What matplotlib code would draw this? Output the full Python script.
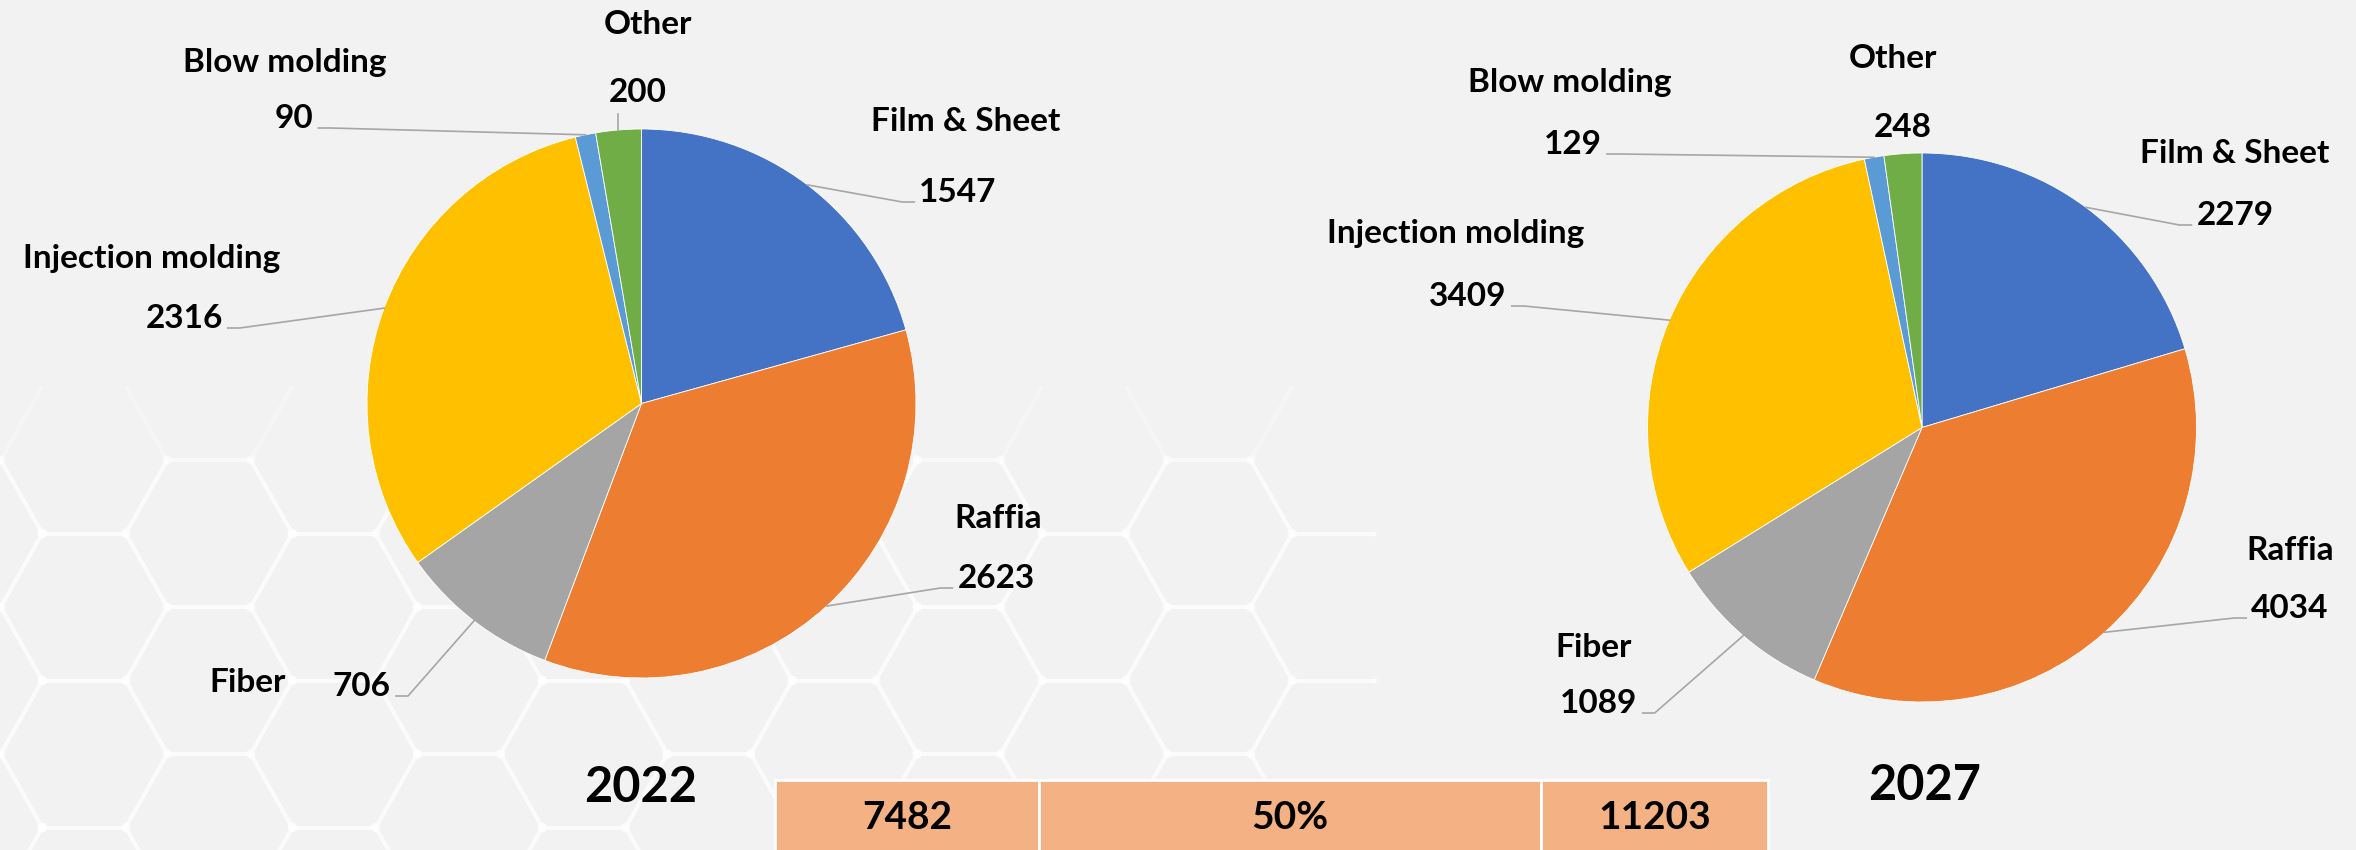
import numpy as np
import matplotlib.pyplot as plt
from matplotlib.patches import Rectangle
from matplotlib.collections import LineCollection

categories = ["Film & Sheet", "Raffia", "Fiber", "Injection molding", "Blow molding", "Other"]
values_2022 = [1547, 2623, 706, 2316, 90, 200]
values_2027 = [2279, 4034, 1089, 3409, 129, 248]
years = ["2022", "2027"]
table_cells = ["7482", "50%", "11203"]
colors = ["#4472C4", "#ED7D31", "#A5A5A5", "#FFC000", "#5B9BD5", "#70AD47"]

W, H = 2356, 850
BG = "#F2F2F2"
plt.rcParams['font.family'] = ['Lato', 'DejaVu Sans']

fig = plt.figure(figsize=(W / 100, H / 100), dpi=100, facecolor=BG)
ax = fig.add_axes([0, 0, 1, 1])
ax.set_facecolor(BG)

# layout, in pixel coordinates (y grows downward)
pies = [
    dict(values=values_2022, center=(641.5, 403.5), radius=274.5, year_pos=(641, 802),
         name_pos=[(966, 131), (998, 528), (248, 692), (152, 268), (285, 72), (648, 34)],
         value_pos=[(958, 202), (996, 588), (362, 696), (184, 328), (294, 128), (638, 102)],
         leader=[True, True, True, True, True, True]),
    dict(values=values_2027, center=(1922, 427.5), radius=274.5, year_pos=(1925, 800),
         name_pos=[(2235, 163), (2290, 560), (1594, 657), (1456, 243), (1570, 92), (1893, 68)],
         value_pos=[(2235, 225), (2290, 618), (1599, 713), (1468, 306), (1573, 154), (1903, 137)],
         leader=[True, True, True, True, True, False]),
]

# faint hexagon pattern in the background
s, h = 83.3, 73.5
segs, seg_cols, nodes = [], [], set()
for i in range(-1, 19):
    for j in range(-4, 4):
        cx = 84 + 125 * i
        cy = 607 + 147 * j - (73.5 if i % 2 else 0)
        v = [(cx - s / 2, cy - h), (cx + s / 2, cy - h), (cx + s, cy), (cx + s / 2, cy + h)]
        for a, b in [(v[0], v[1]), (v[1], v[2]), (v[2], v[3])]:
            mx, my = (a[0] + b[0]) / 2, (a[1] + b[1]) / 2
            alpha = 0.75 * np.clip((my - 380) / 110, 0, 1) * np.clip((1400 - mx) / 80, 0, 1)
            if alpha > 0.02:
                segs.append([a, b])
                seg_cols.append((1, 1, 1, alpha))
                nodes.add((round(a[0], 1), round(a[1], 1)))
                nodes.add((round(b[0], 1), round(b[1], 1)))
ax.add_collection(LineCollection(segs, colors=seg_cols, linewidths=3, zorder=0.5))
nx = np.array([n[0] for n in nodes])
ny = np.array([n[1] for n in nodes])
na = 0.7 * np.clip((ny - 380) / 110, 0, 1) * np.clip((1400 - nx) / 80, 0, 1)
ax.scatter(nx, ny, s=45, c=[(1, 1, 1, a) for a in na], linewidths=0, zorder=0.6)

value_texts = []
for p, year in zip(pies, years):
    ax.pie(p["values"], colors=colors, startangle=-90, counterclock=True,
           center=p["center"], radius=p["radius"], frame=False,
           wedgeprops=dict(linewidth=0.6, edgecolor="white"))
    for name, val, npos, vpos in zip(categories, p["values"], p["name_pos"], p["value_pos"]):
        ax.text(npos[0], npos[1], name, ha="center", va="baseline",
                fontsize=24, fontweight="bold", zorder=4)
        t = ax.text(vpos[0], vpos[1], str(val), ha="center", va="baseline",
                    fontsize=24, fontweight="bold", zorder=4)
        value_texts.append(t)
    ax.text(p["year_pos"][0], p["year_pos"][1], year, ha="center", va="baseline",
            fontsize=35, fontweight="bold", zorder=4)

ax.set_xlim(0, W)
ax.set_ylim(H, 0)
ax.set_aspect("auto")
ax.axis("off")

# summary table at the bottom
cell_edges = [775, 1039, 1541, 1768]
for k, txt in enumerate(table_cells):
    x0, x1 = cell_edges[k], cell_edges[k + 1]
    ax.add_patch(Rectangle((x0, 780), x1 - x0, 75, facecolor="#F4B183",
                           edgecolor="white", linewidth=2, zorder=3))
    ax.text((x0 + x1) / 2, 829, txt, ha="center", va="baseline",
            fontsize=28, fontweight="bold", zorder=4)

# leader lines from the value labels to the slices
fig.canvas.draw()
renderer = fig.canvas.get_renderer()
inv = ax.transData.inverted()
k = 0
for p in pies:
    vals = np.array(p["values"], dtype=float)
    cum = np.cumsum(vals) - vals / 2
    ang = cum / vals.sum() * 2 * np.pi
    cx, cy = p["center"]
    r = p["radius"]
    for idx in range(len(vals)):
        t = value_texts[k]
        k += 1
        if not p["leader"][idx]:
            continue
        px = cx + r * np.sin(ang[idx])
        py = cy - r * np.cos(ang[idx])
        bb = t.get_window_extent(renderer).transformed(inv)
        xmin, xmax = min(bb.x0, bb.x1), max(bb.x0, bb.x1)
        by = p["value_pos"][idx][1]
        if xmin - 4 > px:
            xs, ys = [xmin - 5, xmin - 17, px], [by, by, py]
        elif xmax + 4 < px:
            xs, ys = [xmax + 5, xmax + 17, px], [by, by, py]
        else:
            xs, ys = [px, px], [by + 12, py]
        ax.plot(xs, ys, color="#A6A6A6", linewidth=1.2, zorder=2)

fig.savefig("out.png", dpi=100, facecolor=BG)
